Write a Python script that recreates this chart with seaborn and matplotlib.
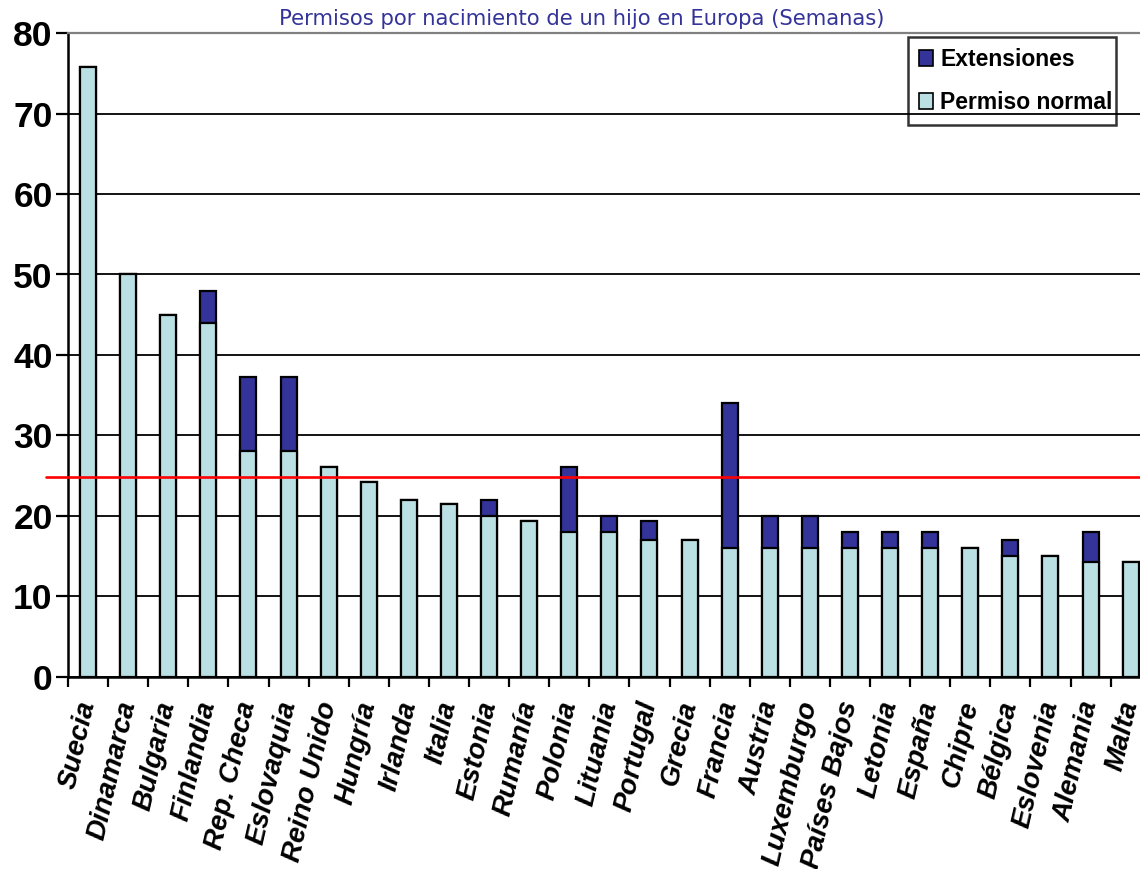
import matplotlib
matplotlib.use("Agg")
import matplotlib.pyplot as plt
import matplotlib.patches as mpatches
import seaborn as sns
import numpy as np

# Weeks of leave after the birth of a child, by country
countries = ["Suecia", "Dinamarca", "Bulgaria", "Finlandia", "Rep. Checa", "Eslovaquia",
             "Reino Unido", "Hungría", "Irlanda", "Italia", "Estonia", "Rumanía", "Polonia",
             "Lituania", "Portugal", "Grecia", "Francia", "Austria", "Luxemburgo",
             "Países Bajos", "Letonia", "España", "Chipre", "Bélgica", "Eslovenia",
             "Alemania", "Malta"]
permiso_normal = [75.8, 50, 45, 44, 28, 28, 26, 24.2, 22, 21.5, 20, 19.3, 18, 18, 17, 17,
                  16, 16, 16, 16, 16, 16, 16, 15, 15, 14.2, 14.2]
extensiones = [0, 0, 0, 4, 9.3, 9.3, 0, 0, 0, 0, 2, 0, 8, 2, 2.3, 0, 18, 4, 4, 2, 2, 2,
               0, 2, 0, 3.8, 0]
media_europea = 24.8
y_ticks = [0, 10, 20, 30, 40, 50, 60, 70, 80]

titulo = "Permisos por nacimiento de un hijo en Europa (Semanas)"
etiqueta_ext = "Extensiones"
etiqueta_normal = "Permiso normal"

color_normal = "#BBE0E3"
color_ext = "#333399"

sns.set_style("white")
plt.rcParams["font.family"] = ["Liberation Sans", "DejaVu Sans"]
plt.rcParams["text.color"] = "black"
plt.rcParams["xtick.color"] = "black"
plt.rcParams["ytick.color"] = "black"
plt.rcParams["axes.labelcolor"] = "black"

fig = plt.figure(figsize=(11.40, 8.69), dpi=100)
ax = fig.add_axes([68 / 1140, 1 - 676.5 / 869, 1082.7 / 1140, 643.2 / 869])

total = [n + e for n, e in zip(permiso_normal, extensiones)]

# Full height (normal + extension) first, then the normal part on top of it
sns.barplot(x=countries, y=total, color=color_ext, saturation=1, width=0.4,
            edgecolor="black", linewidth=1.6, ax=ax, zorder=3)
sns.barplot(x=countries, y=permiso_normal, color=color_normal, saturation=1, width=0.4,
            edgecolor="black", linewidth=1.6, ax=ax, zorder=4)

ax.set_xlim(-0.5, len(countries) - 0.5)
ax.set_ylim(0, 80)
ax.set_yticks(y_ticks)
ax.set_xlabel("")
ax.set_ylabel("")

# Horizontal grid in black, drawn behind the bars
ax.yaxis.grid(True, color="black", linewidth=1.3)
ax.xaxis.grid(False)
ax.set_axisbelow(True)

for side in ["left", "bottom"]:
    ax.spines[side].set_color("black")
    ax.spines[side].set_linewidth(1.8)
ax.spines["top"].set_color("#808080")
ax.spines["top"].set_linewidth(1.6)
ax.spines["right"].set_visible(False)

# Tick marks on category boundaries, labels at category centres
ax.set_xticks(np.arange(len(countries) + 1) - 0.5, minor=True)
ax.tick_params(axis="x", which="minor", bottom=True, length=7, width=1.6, color="black",
               direction="out")
ax.tick_params(axis="x", which="major", length=0, pad=18)
ax.tick_params(axis="y", which="major", left=True, length=9, width=1.6, color="black",
               direction="out", pad=2)

ax.set_xticklabels(countries, rotation=77, ha="right", va="center", rotation_mode="anchor",
                   fontsize=20, fontweight="bold", fontstyle="italic", color="black")
for lbl in ax.get_yticklabels():
    lbl.set_fontsize(25.5)
    lbl.set_fontweight("bold")
    lbl.set_color("black")

# European average reference line
ax.axhline(media_europea, xmin=-0.0205, xmax=1.0, color="#FF0000", linewidth=1.9,
           zorder=6, clip_on=False)

fig.text(582 / 1140, 1 - 19 / 869, titulo, ha="center", va="center",
         fontsize=15.2, color="#333399", family="DejaVu Sans")

handles = [mpatches.Patch(facecolor=color_ext, edgecolor="black", linewidth=1.2),
           mpatches.Patch(facecolor=color_normal, edgecolor="black", linewidth=1.2)]
leg = fig.legend(handles, [etiqueta_ext, etiqueta_normal], loc="upper left",
                 bbox_to_anchor=(908 / 1140, 1 - 37 / 869 - 0.01, 208 / 1140, 0.01),
                 bbox_transform=fig.transFigure, mode="expand",
                 prop={"weight": "bold", "size": 16.5, "family": "Liberation Sans"},
                 frameon=True, fancybox=False, handlelength=0.6, handleheight=0.7,
                 handletextpad=0.3, labelspacing=0.85, borderpad=0.5, borderaxespad=0)
leg.get_frame().set_edgecolor("black")
leg.get_frame().set_linewidth(1.8)
leg.get_frame().set_facecolor("none")

fig.savefig("out.png", dpi=100)
